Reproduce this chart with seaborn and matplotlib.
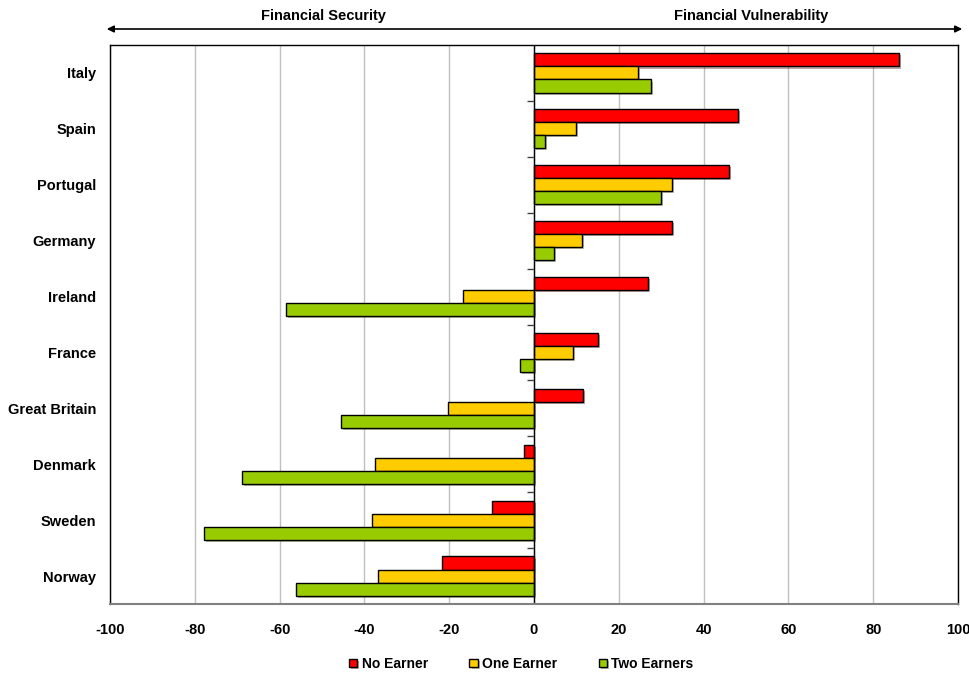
import matplotlib
matplotlib.use("Agg")
import matplotlib.pyplot as plt
import matplotlib.patheffects as pe
import seaborn as sns
import pandas as pd
import numpy as np

countries = ["Italy", "Spain", "Portugal", "Germany", "Ireland", "France",
             "Great Britain", "Denmark", "Sweden", "Norway"]
no_earner = [86.1, 48.2, 46.0, 32.5, 26.9, 15.1, 11.5, -2.4, -10.0, -21.6]
one_earner = [24.5, 9.8, 32.5, 11.3, -16.7, 9.1, -20.3, -37.6, -38.1, -36.9]
two_earners = [27.6, 2.6, 30.0, 4.6, -58.5, -3.3, -45.6, -68.8, -77.9, -56.2]
series_names = ["No Earner", "One Earner", "Two Earners"]
colors = ["#FF0000", "#FFCC00", "#99CC00"]
xticks = [-100, -80, -60, -40, -20, 0, 20, 40, 60, 80, 100]

df = pd.DataFrame({
    "Country": countries * 3,
    "Value": no_earner + one_earner + two_earners,
    "Group": [series_names[0]] * 10 + [series_names[1]] * 10 + [series_names[2]] * 10,
})

sns.set_theme(style="white")
plt.rcParams["font.family"] = ["Liberation Sans Narrow", "Liberation Sans", "DejaVu Sans"]
plt.rcParams["font.weight"] = "bold"
plt.rcParams["text.color"] = "black"
plt.rcParams["xtick.color"] = "black"
plt.rcParams["ytick.color"] = "black"
plt.rcParams["xtick.labelcolor"] = "black"
plt.rcParams["ytick.labelcolor"] = "black"

fig = plt.figure(figsize=(9.69, 6.73), dpi=100)
ax = fig.add_axes([110 / 969, 1 - 604 / 673, 848 / 969, 559 / 673])

sns.barplot(data=df, y="Country", x="Value", hue="Group", order=countries,
            hue_order=series_names, palette=colors, orient="h", width=0.7,
            edgecolor="black", linewidth=1, ax=ax, legend=True, saturation=1)

for p in ax.patches:
    p.set_path_effects([pe.SimplePatchShadow(offset=(1.5, -1.5), alpha=0.35), pe.Normal()])

ax.set_xlim(-100, 100)
ax.set_ylim(9.5, -0.5)
ax.set_xticks(xticks)
ax.set_xticklabels([str(t) for t in xticks], fontsize=10.5, fontweight="bold", color="black")
ax.tick_params(axis="x", length=0, pad=14)
ax.tick_params(axis="y", length=0, pad=10, labelsize=10.5, labelcolor="black")
for lab in ax.get_yticklabels():
    lab.set_fontweight("bold")
ax.set_xlabel("")
ax.set_ylabel("")
ax.xaxis.grid(True, color="#C0C0C0", linewidth=1)
ax.yaxis.grid(False)
ax.set_axisbelow(True)
ax.axvline(0, color="black", linewidth=1, zorder=1.5)

for side in ["top", "left", "right"]:
    ax.spines[side].set_color("black")
    ax.spines[side].set_linewidth(1)
ax.spines["bottom"].set_color("#808080")
ax.spines["bottom"].set_linewidth(1.5)

sec = ax.secondary_yaxis(0.5)
sec.set_yticks(np.arange(0.5, 9.5, 1.0))
sec.set_yticklabels([])
sec.yaxis.set_ticks_position("left")
sec.tick_params(axis="y", which="both", direction="out", length=5, width=1,
                color="#404040", left=True, right=False)
for s in sec.spines.values():
    s.set_visible(False)

leg = ax.legend(loc="center", bbox_to_anchor=(0.485, -0.107), ncol=3,
                frameon=False, handlelength=0.6, handleheight=0.6, handletextpad=0.3,
                columnspacing=3.0, prop={"weight": "bold", "size": 10})
for t in leg.get_texts():
    t.set_color("black")

fig.patches.append(matplotlib.patches.FancyArrowPatch(
    (104 / 969, 1 - 29 / 673), (965 / 969, 1 - 29 / 673), transform=fig.transFigure,
    arrowstyle="<|-|>", mutation_scale=10, color="black", linewidth=1.2))
fig.text(323 / 969, 1 - 16 / 673, "Financial Security", ha="center", va="center",
         fontsize=10.5, fontweight="bold", color="black")
fig.text(751 / 969, 1 - 16 / 673, "Financial Vulnerability", ha="center", va="center",
         fontsize=10.5, fontweight="bold", color="black")

fig.savefig("out.png", dpi=100)
